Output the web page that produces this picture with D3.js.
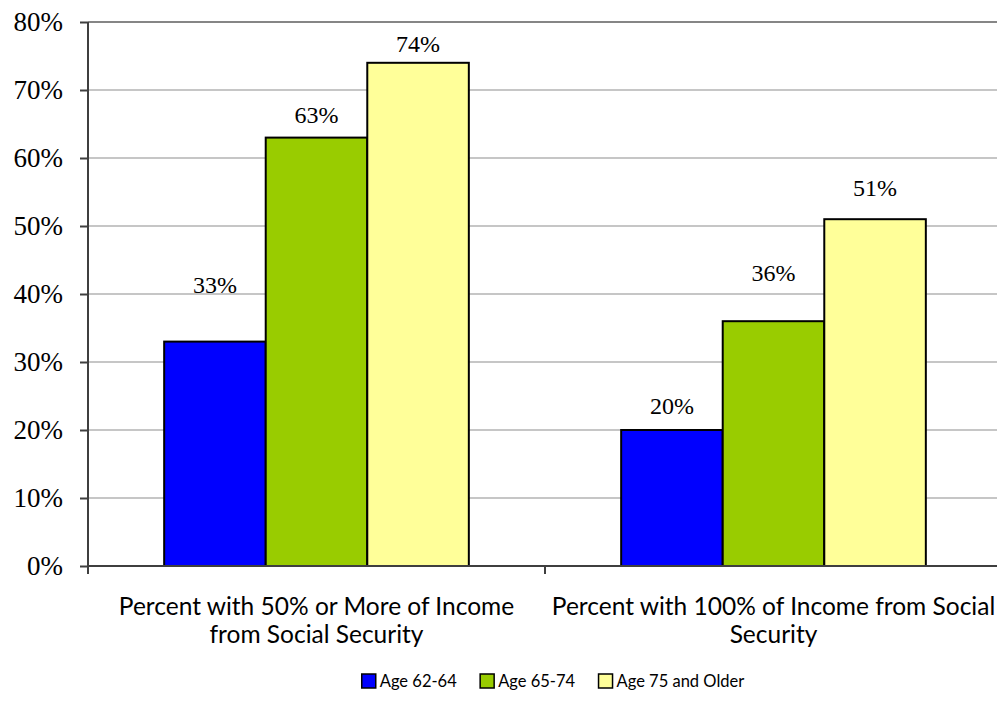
<!DOCTYPE html>
<html>
<head>
<meta charset="utf-8">
<script src="https://cdn.jsdelivr.net/npm/d3@7"></script>
<style>
  html, body { margin: 0; padding: 0; background: #fff; }
  svg { display: block; }
</style>
</head>
<body>
<svg id="chart" width="997" height="719"></svg>
<script>
// Share of beneficiaries relying on Social Security, by age group
const categories = [
  ["Percent with 50% or More of Income", "from Social Security"],
  ["Percent with 100% of Income from Social", "Security"]
];
const seriesNames = ["Age 62-64", "Age 65-74", "Age 75 and Older"];
const age62to64 = [0.33, 0.20];
const age65to74 = [0.63, 0.36];
const age75plus = [0.74, 0.51];
const yTicks = [0, 0.1, 0.2, 0.3, 0.4, 0.5, 0.6, 0.7, 0.8];

// label baseline lift above each bar top (px), per series then category
const labelLift = [[49, 16], [15, 40], [11, 23]];
const colors = ["#0000FF", "#99CC00", "#FFFF99"];

const series = [age62to64, age65to74, age75plus];
const svg = d3.select("#chart");

const plotLeft = 88, plotRight = 1002, plotTop = 22, plotBottom = 566;
const x0 = d3.scaleBand().domain(d3.range(categories.length)).range([plotLeft, plotRight]);
// gap between groups = 1.5 bar widths
const barW = x0.bandwidth() / 4.5;
const x1 = d3.scaleBand().domain(d3.range(series.length))
  .range([barW * 0.75, barW * 0.75 + barW * 3]);
const y = d3.scaleLinear().domain([0, 0.8]).range([plotBottom, plotTop]);

const serif = "'Liberation Serif', 'DejaVu Serif', serif";
const sans = "Lato, 'Open Sans', sans-serif";

// gridlines
svg.append("g").selectAll("line").data(yTicks.filter(d => d > 0)).join("line")
  .attr("x1", plotLeft).attr("x2", plotRight)
  .attr("y1", d => y(d)).attr("y2", d => y(d))
  .attr("stroke", d => d === 0.8 ? "#868686" : "#C6C6C6")
  .attr("stroke-width", 2);

// y axis
const yAxis = d3.axisLeft(y).tickValues(yTicks).tickFormat(d3.format(".0%"))
  .tickSize(8).tickPadding(17);
const gy = svg.append("g").attr("transform", `translate(${plotLeft},0)`).call(yAxis);
gy.select(".domain").attr("stroke", "#3F3F3F").attr("stroke-width", 2)
  .attr("d", `M0,${plotTop}V${plotBottom + 8}`);
gy.selectAll(".tick line").attr("stroke", "#3F3F3F").attr("stroke-width", 2);
gy.selectAll(".tick text").attr("font-family", serif).attr("font-size", 27).attr("fill", "#000");

// bars
const groups = svg.append("g").selectAll("g").data(categories).join("g")
  .attr("transform", (d, i) => `translate(${x0(i)},0)`);
groups.selectAll("rect").data((d, ci) => series.map((s, si) => ({ si, ci, v: s[ci] })))
  .join("rect")
  .attr("x", d => x1(d.si))
  .attr("y", d => y(d.v))
  .attr("width", x1.bandwidth())
  .attr("height", d => y(0) - y(d.v))
  .attr("fill", d => colors[d.si])
  .attr("stroke", "#000").attr("stroke-width", 2);

// value labels
groups.selectAll("text.val").data((d, ci) => series.map((s, si) => ({ si, ci, v: s[ci] })))
  .join("text").attr("class", "val")
  .attr("x", d => x1(d.si) + x1.bandwidth() / 2)
  .attr("y", d => y(d.v) - labelLift[d.si][d.ci])
  .attr("text-anchor", "middle")
  .attr("font-family", serif).attr("font-size", 24).attr("fill", "#000")
  .text(d => d3.format(".0%")(d.v));

// x axis
const xAxis = d3.axisBottom(x0).tickSize(0).tickFormat("");
const gx = svg.append("g").attr("transform", `translate(0,${plotBottom})`).call(xAxis);
gx.select(".domain").attr("stroke", "#3F3F3F").attr("stroke-width", 2).attr("d", `M${plotLeft},0H${plotRight}`);
gx.selectAll(".tick").remove();
gx.selectAll("line.sep").data(d3.range(categories.length + 1)).join("line").attr("class", "sep")
  .attr("x1", i => plotLeft + i * x0.bandwidth()).attr("x2", i => plotLeft + i * x0.bandwidth())
  .attr("y1", 0).attr("y2", 8).attr("stroke", "#3F3F3F").attr("stroke-width", 2);

// category labels
const catText = svg.append("g").selectAll("text").data(categories).join("text")
  .attr("x", (d, i) => x0(i) + x0.bandwidth() / 2)
  .attr("y", 615)
  .attr("text-anchor", "middle")
  .attr("font-family", sans).attr("font-size", 24.5).attr("fill", "#000");
catText.selectAll("tspan").data(d => d).join("tspan")
  .attr("x", function () { return this.parentNode.getAttribute("x"); })
  .attr("dy", (d, i) => i === 0 ? 0 : 28)
  .text(d => d);

// legend
const legend = svg.append("g");
const items = legend.selectAll("g").data(seriesNames).join("g");
items.append("rect").attr("width", 14).attr("height", 14)
  .attr("fill", (d, i) => colors[i]).attr("stroke", "#000").attr("stroke-width", 1.5);
items.append("text").attr("x", 18).attr("y", 13)
  .attr("font-family", sans).attr("font-size", 16.5).attr("fill", "#000").text(d => d);
const widths = [];
items.each(function () { widths.push(this.getBBox().width); });
const gap = 23;
const total = d3.sum(widths) + gap * (widths.length - 1);
const start = 553 - total / 2;
items.attr("transform", (d, i) => {
  const tx = start + d3.sum(widths.slice(0, i)) + gap * i;
  return `translate(${tx},674)`;
});
</script>
</body>
</html>
